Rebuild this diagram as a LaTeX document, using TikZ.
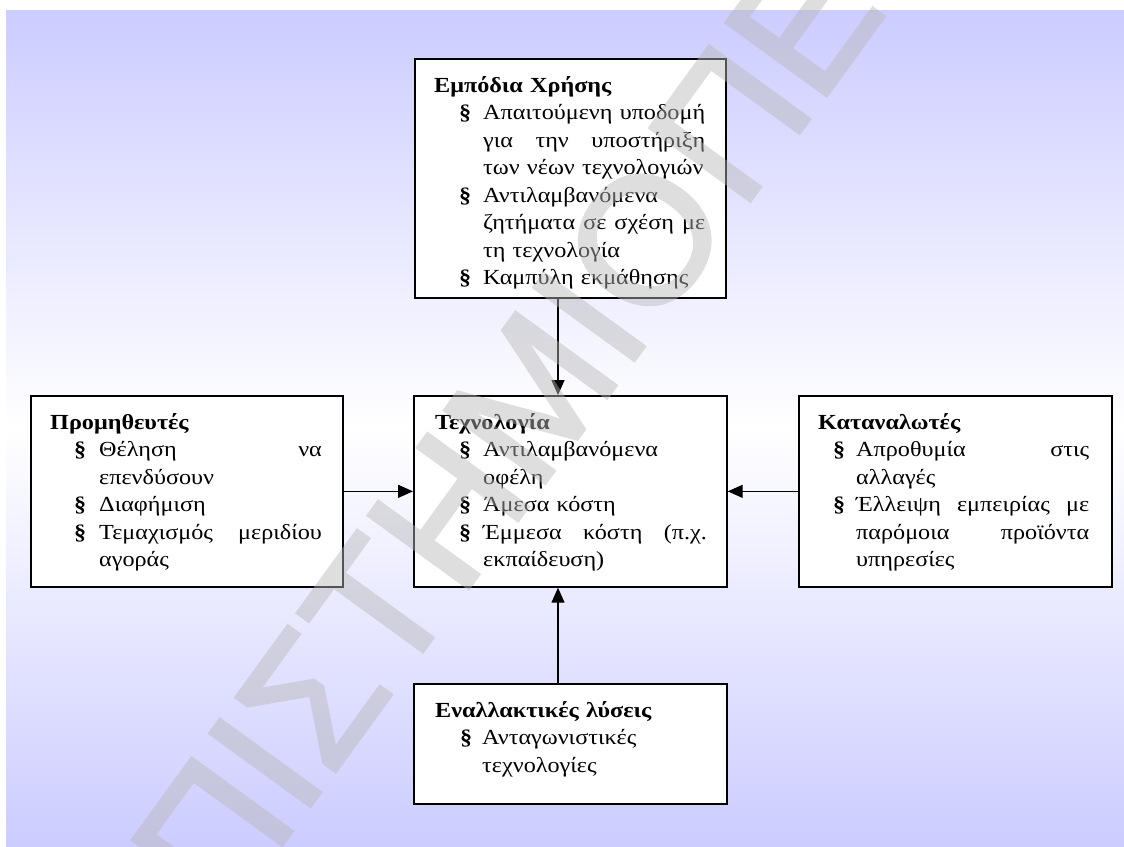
\documentclass[tikz,border=0pt]{standalone}
\usepackage{fontspec}
\setmainfont[FakeStretch=1.125]{Liberation Serif}
\newfontfamily\wmfont[FakeBold=2]{Liberation Sans}
\usetikzlibrary{arrows.meta,calc}

\definecolor{lav}{HTML}{CCCCFF}
\definecolor{wmgray}{gray}{0.72}

% indentation of the bullet, of the item text, and width of a justified line
\newlength\bulind
\newlength\txtind
\newlength\fillw
\newcommand\layout[3]{\setlength\bulind{#1}\setlength\txtind{#2}\setlength\fillw{#3}}
\newcommand\head[1]{\textbf{#1}}
\newcommand\bul{\hspace*{\bulind}\makebox[\dimexpr\txtind-\bulind\relax][l]{\textbf{§}}}
% a justified line: the word spaces stretch to fill the line
\newcommand\jbox[1]{\hbox to \fillw{\spaceskip=\fontdimen2\font plus 1fil\relax#1}}
\newcommand\itemnat[1]{\bul#1}
\newcommand\itemjust[1]{\bul\jbox{#1}}
\newcommand\contnat[1]{\hspace*{\txtind}#1}
\newcommand\contjust[1]{\hspace*{\txtind}\jbox{#1}}

\begin{document}
\begin{tikzpicture}[x=1pt,y=-1pt,
  box/.style={draw=black, line width=1.7pt, fill=white, rectangle, inner sep=0pt, anchor=north west},
  txt/.style={anchor=base west, inner sep=0pt, align=left, text width=#1,
              font=\fontsize{21.5}{27.5}\selectfont},
  arr/.style={line width=1.4pt, -{Triangle[length=15pt,width=13pt]}},
]
\useasboundingbox (0,0) rectangle (1124,846);
\fill[white] (0,0) rectangle (1124,846);
\shade[top color=lav, bottom color=lav, middle color=white] (6,10) rectangle (1124,846);

% boxes
\node[box, minimum width=311pt, minimum height=239pt] (barriers) at (414,58) {};
\node[box, minimum width=313pt, minimum height=191pt] (tech) at (413,395) {};
\node[box, minimum width=312pt, minimum height=191pt] (suppliers) at (30,395) {};
\node[box, minimum width=313pt, minimum height=191pt] (consumers) at (798,395) {};
\node[box, minimum width=313pt, minimum height=120pt] (alternatives) at (413,683) {};

% texts
\node[txt=280pt] (barriers-text) at ($(barriers.north west)+(20,34)$) {\layout{25pt}{49pt}{222pt}%
\head{Εμπόδια Χρήσης}\\
\itemjust{Απαιτούμενη υποδομή}\\
\contjust{για την υποστήριξη}\\
\contnat{των νέων τεχνολογιών}\\
\itemnat{Αντιλαμβανόμενα}\\
\contjust{ζητήματα σε σχέση με}\\
\contnat{τη τεχνολογία}\\
\itemnat{Καμπύλη εκμάθησης}};

\node[txt=280pt] (tech-text) at ($(tech.north west)+(22,34)$) {\layout{24pt}{48pt}{223.7pt}%
\head{Τεχνολογία}\\
\itemnat{Αντιλαμβανόμενα}\\
\contnat{οφέλη}\\
\itemnat{Άμεσα κόστη}\\
\itemjust{Έμμεσα κόστη (π.χ.}\\
\contnat{εκπαίδευση)}};

\node[txt=280pt] (suppliers-text) at ($(suppliers.north west)+(20,34)$) {\layout{24pt}{49pt}{222.7pt}%
\head{Προμηθευτές}\\
\itemjust{Θέληση να}\\
\contnat{επενδύσουν}\\
\itemnat{Διαφήμιση}\\
\itemjust{Τεμαχισμός μεριδίου}\\
\contnat{αγοράς}};

\node[txt=280pt] (consumers-text) at ($(consumers.north west)+(20,34)$) {\layout{15pt}{38pt}{233pt}%
\head{Καταναλωτές}\\
\itemjust{Απροθυμία στις}\\
\contnat{αλλαγές}\\
\itemjust{Έλλειψη εμπειρίας με}\\
\contjust{παρόμοια προϊόντα}\\
\contnat{υπηρεσίες}};

\node[txt=280pt] (alternatives-text) at ($(alternatives.north west)+(22,34)$) {\layout{25pt}{47pt}{220pt}%
\head{Εναλλακτικές λύσεις}\\
\itemnat{Ανταγωνιστικές}\\
\contnat{τεχνολογίες}};

% connectors
\coordinate (axis) at (558,0);
\draw[arr] (barriers.south -| axis) -- (tech.north -| axis);
\draw[arr] (alternatives.north -| axis) -- (tech.south -| axis);
\draw[arr] (suppliers.east) -- (tech.west);
\draw[arr] (consumers.west) -- (tech.east);

% watermark, centred on its letter O, laid over everything at partial opacity
\begin{scope}
\clip (0,0) rectangle (1124,846);
\begin{scope}[transparency group, opacity=0.46]
\node[anchor=center, rotate=54, inner sep=0pt, text=wmgray,
      font=\wmfont\fontsize{180}{180}\selectfont] (watermark) at (645,240)
      {\llap{ΠΑΝΕΠΙΣΤΗΜΙ}Ο\rlap{\hspace{0.05em}ΠΕΙΡΑΙΩΣ}};
\end{scope}
\end{scope}
\end{tikzpicture}
\end{document}
